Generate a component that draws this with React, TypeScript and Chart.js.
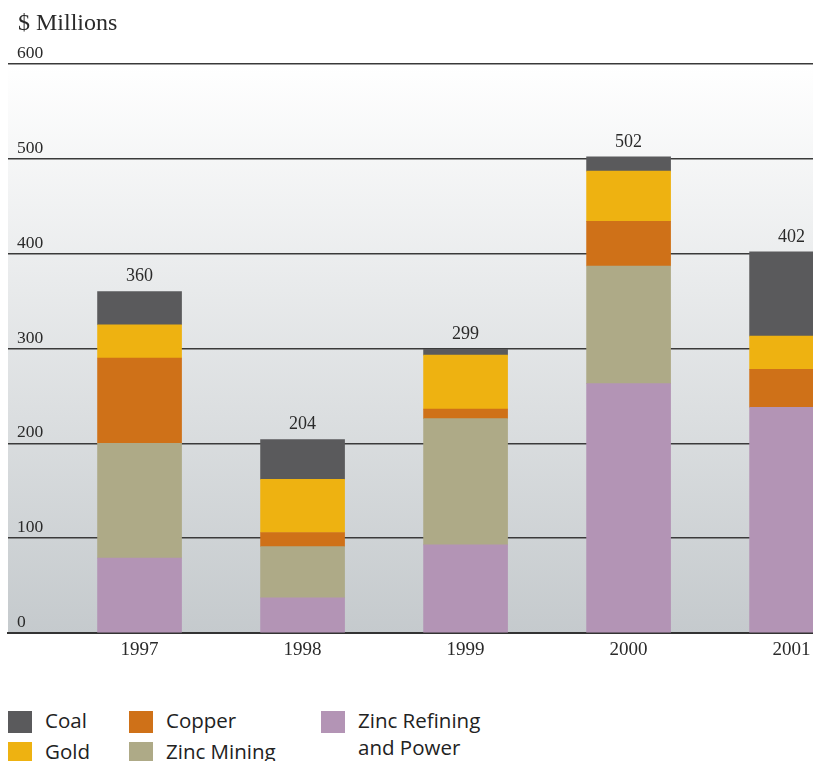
import React, { useEffect, useRef } from 'react';
import { Chart, registerables } from 'chart.js';

Chart.register(...registerables);

// ---- data ----
const years = [1997, 1998, 1999, 2000, 2001];
const zincRefining = [79, 37, 93, 263, 238];
const zincMining = [121, 54, 133, 124, 0];
const copper = [90, 15, 10, 47, 40];
const gold = [35, 56, 57, 53, 35];
const coal = [35, 42, 6, 15, 89];
const yMin = 0;
const yMax = 600;
const yStep = 100;
const unitTitle = '$ Millions';

const seriesNames = ['Zinc Refining\nand Power', 'Zinc Mining', 'Copper', 'Gold', 'Coal'];
const seriesValues = [zincRefining, zincMining, copper, gold, coal];
const seriesColors = ['#b394b5', '#aeaa87', '#cf7118', '#eeb211', '#5a5a5c'];

// legend placement: [series index, left, top]
const legendSlots: [number, number, number][] = [
  [4, 8, 711],
  [3, 8, 742],
  [2, 129, 711],
  [1, 129, 742],
  [0, 321, 711],
];

const SERIF = '"Liberation Serif", "Times New Roman", serif';
const SANS = '"Open Sans", "Noto Sans", sans-serif';

const decorPlugin = {
  id: 'decor',
  beforeDraw(chart: any) {
    const { ctx, chartArea: a } = chart;
    ctx.save();
    const g = ctx.createLinearGradient(0, a.top, 0, a.bottom);
    g.addColorStop(0, '#ffffff');
    g.addColorStop(1, '#c5cacd');
    ctx.fillStyle = g;
    ctx.fillRect(a.left, a.top, a.right - a.left, a.bottom - a.top);
    ctx.fillStyle = '#2a2a2a';
    ctx.font = `24px ${SERIF}`;
    ctx.textBaseline = 'alphabetic';
    ctx.textAlign = 'left';
    ctx.fillText(unitTitle, 18, 30);
    ctx.restore();
  },
  afterDatasetsDraw(chart: any) {
    const { ctx, scales } = chart;
    ctx.save();
    ctx.fillStyle = '#2a2a2a';
    ctx.font = `18px ${SERIF}`;
    ctx.textAlign = 'center';
    ctx.textBaseline = 'middle';
    years.forEach((yr, i) => {
      const total = seriesValues.reduce((s, arr) => s + arr[i], 0);
      const x = scales.x.getPixelForValue(yr);
      const y = scales.y.getPixelForValue(total);
      ctx.fillText(String(total), x, y - 15);
    });
    ctx.restore();
  },
};

export default function App() {
  const ref = useRef<HTMLCanvasElement | null>(null);

  useEffect(() => {
    if (!ref.current) return;
    const chart = new Chart(ref.current, {
      type: 'bar',
      data: {
        datasets: seriesNames.map((name, s) => ({
          label: name,
          data: years.map((yr, i) => ({ x: yr, y: seriesValues[s][i] })),
          backgroundColor: seriesColors[s],
          borderWidth: 0,
          barThickness: 84,
        })),
      },
      options: {
        animation: false,
        responsive: false,
        devicePixelRatio: 1,
        layout: { padding: { left: 8, top: 64, right: 0, bottom: 0 } },
        plugins: {
          legend: { display: false },
          tooltip: { enabled: false },
          title: { display: false },
        },
        scales: {
          x: {
            type: 'linear',
            stacked: true,
            offset: false,
            min: 1996.193,
            max: 2001.665,
            grid: { display: false, drawTicks: false, offset: false },
            border: { display: true, color: '#333333', width: 2 },
            ticks: {
              stepSize: 1,
              includeBounds: false,
              padding: 6,
              color: '#2a2a2a',
              font: { family: SERIF, size: 19 },
              callback: (v: any) => String(v),
            },
            afterFit: (scale: any) => {
              scale.height = 47;
            },
          },
          y: {
            stacked: true,
            min: yMin,
            max: yMax,
            grid: { color: '#3a3a3a', lineWidth: 1.5, drawTicks: false },
            border: { display: false },
            ticks: {
              stepSize: yStep,
              mirror: true,
              padding: 9,
              labelOffset: -10.5,
              color: '#2a2a2a',
              font: { family: SERIF, size: 17.5 },
            },
            afterFit: (scale: any) => {
              scale.width = 0;
            },
          },
        },
      },
      plugins: [decorPlugin],
    } as any);
    return () => chart.destroy();
  }, []);

  return (
    <div
      style={{
        position: 'fixed',
        left: 0,
        top: 0,
        width: 813,
        height: 761,
        overflow: 'hidden',
        background: '#ffffff',
      }}
    >
      <canvas ref={ref} width={900} height={680} style={{ position: 'absolute', left: 0, top: 0 }} />
      {legendSlots.map(([s, left, top]) => (
        <div key={s} style={{ position: 'absolute', left, top }}>
          <div
            style={{
              position: 'absolute',
              left: 0,
              top: 0,
              width: 24,
              height: 22,
              background: seriesColors[s],
            }}
          />
          <div
            style={{
              position: 'absolute',
              left: 37,
              top: -4,
              whiteSpace: 'pre',
              fontFamily: SANS,
              fontSize: 20.5,
              lineHeight: '27px',
              color: '#222222',
            }}
          >
            {seriesNames[s]}
          </div>
        </div>
      ))}
    </div>
  );
}
